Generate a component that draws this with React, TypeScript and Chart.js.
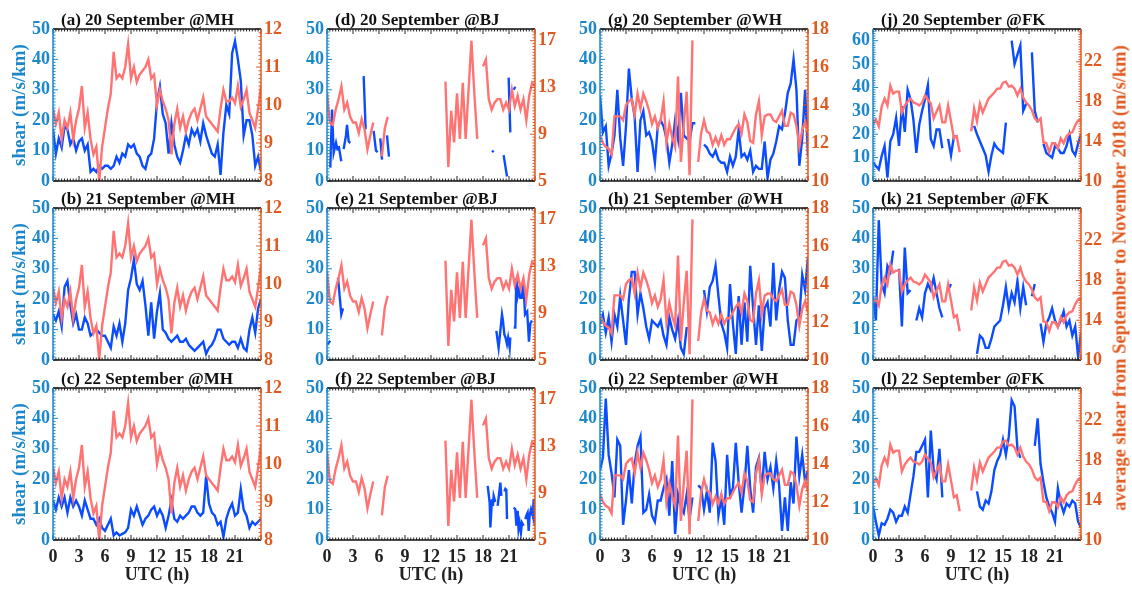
import React, { useEffect, useRef } from "react";
import { Chart, registerables } from "chart.js";
Chart.register(...registerables);

// ---------- time grid (hours UTC, 20-min steps) ----------
const H20: number[] = Array.from({ length: 73 }, (_, i) => i / 3);
const X_TICKS = [0, 3, 6, 9, 12, 15, 18, 21];

// ---------- MH ----------
const MH_AVG = [9.9, 9.5, 9.8, 9.1, 9.6, 9.4, 9.8, 9.1, 9.6, 9.9, 10.5, 9.4, 9.8, 9.1, 8.7, 8.9, 8.0, 8.9, 9.4, 9.9, 10.3, 11.4, 10.7, 10.8, 10.7, 11.0, 11.6, 10.7, 11.0, 10.6, 10.8, 10.9, 11.0, 11.2, 10.7, 10.8, 10.0, 10.4, 10.1, 9.9, 9.6, 8.7, 9.5, 9.9, 9.4, 9.7, 9.3, 9.6, 9.8, 9.9, 9.6, 9.9, 10.2, 9.7, 9.6, 9.5, 9.4, 9.3, 9.9, 10.4, 10.1, 10.1, 10.2, 10.05, 10.5, 9.95, 10.15, 10.4, 9.8, 9.6, 9.4, 9.9, 10.5];
const MH_20 = [17, 9, 14, 11, 18, 17, 12, 14, 10, 13, 14, 10, 12, 3, 4, 3, 5, 4, 5, 5, 4, 5, 8, 6, 9, 8, 12, 11, 12, 9, 8, 5, 4, 8, 9, 14, 26, 31, 22, 19, 9, 19, 12, 8, 6, 10, 15, 12, 17, 15, 17, 13, 19, 15, 12, 9, 8, 12, 2, 16, 25, 22, 42, 46, 40, 33, 15, 20, 20, 15, 5, 8, 3];
const MH_21 = [15, 13, 16, 11, 24, 26, 18, 12, 15, 10, 10, 14, 12, 8, 9, 10, 9, 8, 8, 6, 4, 11, 8, 12, 6, 12, 23, 27, 33, 25, 23, 26, 18, 8, 19, 7, 16, 22, 10, 9, 7, 6, 7, 8, 6, 6, 7, 5, 4, 3, 4, 5, 6, 2, 4, 5, 7, 10, 10, 7, 6, 5, 6, 6, 4, 7, 4, 3, 10, 14, 9, 17, 20];
const MH_22 = [13, 10, 14, 11, 14, 9, 14, 11, 13, 11, 8, 13, 10, 7, 7, 5, 7, 4, 3, 5, 7, 1.5, 2.5, 1.5, 2, 2.5, 4, 10, 8, 11, 8, 5, 7, 8, 10, 11, 8, 10, 8, 4, 8, 13, 7, 6, 8, 7, 8, 9, 11, 11, 9, 8, 9, 21, 12, 9, 8, 5, 6, 1, 7, 10, 12, 8, 9, 16.7, 10, 8, 4, 6, 5, 6, 7];

// ---------- BJ ----------
const BJ_AVG = [12.5, 10.0, 9.8, 11.1, 12.0, 13.1, 11.1, 11.7, 10.5, 10.0, 10.0, 9.1, 10.3, 9.4, 7.7, 8.9, 10.0, null, null, 7.1, 9.5, 10.5,
  null, null, null, null, null, null, null, null, null, null, null, null, null, null, null, null, null, null, null,
  13.5, 6.2, 11.0, 8.3, 12.5, 8.6, 13.4, 8.6, 12.8, 17.0, 12.5, 8.6, null,
  14.8, 15.4, 12.0, 11.1, 11.7, 12.0, 12.0, 11.1, 11.7, 11.1, 12.8, 11.4, 12.3, 11.1, 12.0, 10.2, 12.3, 13.4, 13.1];
const BJ_20_T = [0.38, 0.58, 0.77, 1.04, 1.23, 1.29, 1.35, 1.65, 1.78, 1.92, 2.19, 2.31, 2.5, 2.69, 3.5, 4.23, 4.46, 5.0, 5.38, 5.65, 5.85, 6.0, 6.15, 6.35, 6.6, 6.92, 7.15, 12, 19.04, 19.23, 19.8, 20.38, 20.77, 20.87, 20.96, 21.15, 21.35, 21.54, 21.73];
const BJ_20 = [4.4, 23.5, 9.3, 12.6, 10, null, 11.5, 6.5, null, 10.5, 15, 18.5, 13, 12.5, null, 34.5, 17, null, 16.5, 10, 9.5, null, 14, 7, null, 15, 8, null, 9.5, 10, null, 8.5, 1.5, null, 34, 16, null, 30, 31];
const BJ_21_T = [0.0, 0.38, 0.8, 1.27, 1.46, 1.65, 1.85, 5, 19.54, 19.8, 20.0, 20.19, 20.3, 20.46, 20.6, 20.77, 20.9, 21.08, 21.15, 21.3, 21.54, 21.73, 21.85, 22.0, 22.15, 22.3, 22.5, 22.65, 22.85, 23.1, 23.3, 23.46, 23.65];
const BJ_21 = [5.0, 6.3, null, 27, 21, 15, 17, null, 9.6, 4, 9.6, 15, 13, 8.5, 7.4, 5.2, 7.4, 4, 7.4, null, 10.7, 10.7, 27, 21, 23, 20.5, 20.5, 26, 15, 16, 6, 12, 13];
const BJ_22_T = [18.54, 18.77, 18.85, 19.04, 19.15, 19.23, 19.42, 19.55, 19.69, 19.85, 20.0, 20.12, 20.3, 20.46, 20.58, 20.69, 20.77, 21.2, 21.54, 21.73, 21.85, 22.0, 22.1, 22.23, 22.38, 22.5, 22.69, 22.8, 22.88, 23.0, 23.15, 23.27, 23.38, 23.54, 23.73, 23.85, 23.96];
const BJ_22 = [17.8, 12.3, 4.1, 13.4, 11.2, 14.5, 12.5, null, 11.2, 15, 18.9, 14.5, null, 16, 16.8, 16.5, 6.9, null, 10.7, 10.1, 4.7, 9.6, 3.5, 5.7, 2.5, 5.7, 4.7, null, 6.9, 8, 9, 3, 8, 10.1, 8, 13.4, 4.7];

// ---------- WH ----------
const WH_AVG = [12.4, 12.0, 11.8, 11.7, 11.4, 13.4, 13.4, 13.4, 13.2, 14.0, 14.2, 14.3, 13.5, 14.6, 13.8, 14.6, 14.2, 13.7, 13.0, 13.4, 12.8, 13.2, 14.2, 12.0, 13.0, 12.3, 11.8, 15.5, 11.0, 13.0, 14.7, 10.3, 17.4, null, 11.0, 12.5, 13.2, 12.6, 12.5, 11.9, 12.3, 11.9, 12.4, 11.9, 12.2, 12.2, 12.5, 12.8, 13.0, 12.5, 13.5, 13.1, 12.1, 12.0, 13.5, 14.2, 12.4, 13.4, 13.5, 13.5, 13.2, 13.1, 13.4, 13.7, 12.9, 12.9, 13.6, 13.5, 12.9, 11.8, 12.7, 13.1, 12.5];
const WH_20 = [28, 16, 18, 5, 9, 15, 30, 14, 5, 18, 37, 27, 21, 3, 20, 23, 15, 16, 13, 6, 18, 20, 18, 14, 6, 12, 20, 14, 29, 15, 14, 13, 19, 19, null, null, 12, 11, 9, 8, 10, 7, 6, 6, 3, 8, 5, 8, 17, 8, 9, 7, 10, 3, 5, 4, 4, 13, 1, 7, 9, 13, 18, 17, 22, 29, 32, 40, 30, 5, 14, 30, 8];
const WH_21 = [12, 15, 9, 14, 6, 15, 11, 21, 13, 5, 20, 29, 29, 15, 22, 17, 11, 7, 13, 12, 11, 13, 8, 5, 14, 10, 7, 13, 4, 2, 10.5, 10.5, null, null, null, null, 23, 16, 24, 26, 31, 21, 12, 9, 4, 25, 12, 2, 21, 5, 19, 6, 31, 17, 5, 18, 3, 17, 19, 11, 32, 13, 23, 29, 27, 13, 5, 5, 13, 14, 28, 23, 34];
const WH_22 = [23, 27, 46.5, 28, 22, 14, 33, 31, 5, 13, 23, 12, 25, 31, 34, 9, 10, 15, 8, 6, 13, 13, 17, 20, 8, 26, 2, 15, 11, 9, 15, 7, 14, null, 18, 17, 10, 16, 9, 32, 26, 8, 14, 5, 28, 15, 17, 32, 19, 9, 18, 31, 17, 9, 24, 27, 16, 29, 20, 24, 17, 26, 18, 3, 14, 3, 19, 12, 34, 21, 28, 19, 23];

// ---------- FK ----------
const FK_AVG = [15.7, 16.2, 15.5, 17.5, 18.3, 17.6, 19.6, 18.8, 19.0, 19.0, 16.9, 17.6, 18.0, 18.3, 17.9, 17.8, 17.6, 17.9, 18.6, 18.2, 17.8, 16.3, 17.0, 17.6, 15.9, 15.9, 17.6, 16.0, 14.3, 14.5, 12.9, null, null, null, 15.0, 17.3, 16.0, 17.8, 16.9, 17.6, 18.3, 18.6, 18.9, 19.3, 19.3, 19.9, 20.0, 19.5, 19.6, 19.3, 18.6, 19.3, 18.4, 17.9, 17.6, 17.1, 16.3, 16.0, 16.3, 13.9, 13.8, 12.9, 13.8, 13.8, 13.3, 14.3, 13.8, 14.5, 14.8, 14.9, 15.6, 16.1, 16.2];
const FK_20 = [8, 6.4, 5, 10.7, 15, 1.4, 17, 20, 27, 15, 32, 21, 39, 35, 26, 12, 24, 30, 35, 41, 18, 15, 22, 22, 14, null, 18, 11, 19, 19, null, null, null, null, null, 23.6, 20, 17, 14, 11, 4, 11, 16, 14, 13, 12, 25, null, 60, 50, 54, 58, 30, 33, null, 55, 30, 25, null, 16, 12, 11, 10, 15, 14, 12, 12, 15, 20, 13, 11, 16, 20];
const FK_21 = [21, 13, 46, 25, 22, 31, 29, 36, null, 30, 11, 37, 22, 23, null, 13, 17, 14, 22, 25, 23, 27, 22, 17, 14, null, 23, 25, null, null, null, null, null, null, null, null, 2, 8, 7, 4, 4, 7, 11, 12, 13, 18, 24, 17, 22, 19, 26, 17, 24, 18, null, 21, 25, null, 12, 6, 12, 14, 17, 13, 11, 13, 16, 11, 13, 8, 11, 1, 9];
const FK_22 = [11, 6, 1.5, 5.5, 5, 7, 10, 9, 6, 8, 8, 11, 9, 15, 21, 29, 29, 31, 33, 14, 36, 23, 20, 30, 14, null, null, null, null, null, null, null, null, null, null, null, 16, 11, 10, 13, 12, 16, 23, 26, 28, 33, 28, 34, 46, 44, 30, 27, null, null, null, null, 31, 40, 25, 19, 14, 11, 9, 6, 17, 12, 9, 12, 11, 13, 12, 6, 4];

// ---------- styling ----------
const SERIF = "'Liberation Serif', 'Times New Roman', Times, serif";
const BLUE_LINE = "#0b4cff";
const PINK_LINE = "#ff7373";
const BLUE_TXT = "#1c87cb";
const ORANGE_TXT = "#e0591f";
const COL_LEFT = [53, 327, 600, 873];
const ROW_TOP = [29, 208, 388];
const PW = 208;
const PH = 152;
const L = 53;
const R = 36;
const T = 28;

type Station = { avg: (number | null)[]; y1Min: number; y1Max: number; y1Ticks: number[]; y1Minor: number };
const STATIONS: Record<string, Station> = {
  MH: { avg: MH_AVG, y1Min: 8, y1Max: 12, y1Ticks: [8, 9, 10, 11, 12], y1Minor: 0.1 },
  BJ: { avg: BJ_AVG, y1Min: 5, y1Max: 18, y1Ticks: [5, 9, 13, 17], y1Minor: 0.25 },
  WH: { avg: WH_AVG, y1Min: 10, y1Max: 18, y1Ticks: [10, 12, 14, 16, 18], y1Minor: 0.2 },
  FK: { avg: FK_AVG, y1Min: 10, y1Max: 25.3, y1Ticks: [10, 14, 18, 22], y1Minor: 0.25 },
};

type PanelDef = { id: string; date: string; st: string; col: number; row: number; sx: number[]; sv: (number | null)[]; yMax: number; yTicks: number[] };
const Y50 = [0, 10, 20, 30, 40, 50];
const PANELS: PanelDef[] = [
  { id: "a", date: "20 September", st: "MH", col: 0, row: 0, sx: H20, sv: MH_20, yMax: 50, yTicks: Y50 },
  { id: "b", date: "21 September", st: "MH", col: 0, row: 1, sx: H20, sv: MH_21, yMax: 50, yTicks: Y50 },
  { id: "c", date: "22 September", st: "MH", col: 0, row: 2, sx: H20, sv: MH_22, yMax: 50, yTicks: Y50 },
  { id: "d", date: "20 September", st: "BJ", col: 1, row: 0, sx: BJ_20_T, sv: BJ_20, yMax: 50, yTicks: Y50 },
  { id: "e", date: "21 September", st: "BJ", col: 1, row: 1, sx: BJ_21_T, sv: BJ_21, yMax: 50, yTicks: Y50 },
  { id: "f", date: "22 September", st: "BJ", col: 1, row: 2, sx: BJ_22_T, sv: BJ_22, yMax: 50, yTicks: Y50 },
  { id: "g", date: "20 September", st: "WH", col: 2, row: 0, sx: H20, sv: WH_20, yMax: 50, yTicks: Y50 },
  { id: "h", date: "21 September", st: "WH", col: 2, row: 1, sx: H20, sv: WH_21, yMax: 50, yTicks: Y50 },
  { id: "i", date: "22 September", st: "WH", col: 2, row: 2, sx: H20, sv: WH_22, yMax: 50, yTicks: Y50 },
  { id: "j", date: "20 September", st: "FK", col: 3, row: 0, sx: H20, sv: FK_20, yMax: 65, yTicks: [0, 10, 20, 30, 40, 50, 60] },
  { id: "k", date: "21 September", st: "FK", col: 3, row: 1, sx: H20, sv: FK_21, yMax: 50, yTicks: Y50 },
  { id: "l", date: "22 September", st: "FK", col: 3, row: 2, sx: H20, sv: FK_22, yMax: 50, yTicks: Y50 },
];

const pts = (xs: number[], ys: (number | null)[]) => ys.map((y, i) => ({ x: xs[i], y }));

const decoPlugin = {
  id: "deco",
  afterDraw(chart: any, _args: any, opts: any) {
    const { ctx, chartArea, scales } = chart;
    const { left, right, top, bottom } = chartArea;
    const line = (x1: number, y1: number, x2: number, y2: number) => {
      ctx.beginPath();
      ctx.moveTo(x1, y1);
      ctx.lineTo(x2, y2);
      ctx.stroke();
    };
    ctx.save();
    ctx.lineWidth = 1;
    ctx.strokeStyle = "#222";
    for (let k = 0; k <= 72; k++) {
      const px = scales.x.getPixelForValue(k / 3);
      const len = k % 9 === 0 ? 5 : 2.5;
      line(px, top, px, top + len);
      line(px, bottom, px, bottom - len);
    }
    ctx.strokeStyle = BLUE_TXT;
    for (let v = 0; v <= opts.yMax + 1e-6; v += 1) {
      const py = scales.y.getPixelForValue(v);
      line(left, py, left + (v % 10 === 0 ? 5 : 2.5), py);
    }
    ctx.strokeStyle = ORANGE_TXT;
    const n = Math.round((opts.y1Max - opts.y1Min) / opts.y1Minor);
    for (let k = 0; k <= n; k++) {
      const v = opts.y1Min + k * opts.y1Minor;
      const major = opts.y1Ticks.some((t: number) => Math.abs(t - v) < 1e-6);
      const py = scales.y1.getPixelForValue(v);
      line(right, py, right - (major ? 5 : 2.5), py);
    }
    ctx.lineWidth = 1.5;
    ctx.strokeStyle = "#111";
    line(left, top, right, top);
    line(left, bottom, right, bottom);
    ctx.strokeStyle = BLUE_TXT;
    line(left, top, left, bottom);
    ctx.strokeStyle = ORANGE_TXT;
    line(right, top, right, bottom);
    ctx.fillStyle = "#111";
    ctx.font = `bold 17px ${SERIF}`;
    ctx.textAlign = "left";
    ctx.textBaseline = "alphabetic";
    ctx.fillText(opts.title, left + 8, top - 4);
    ctx.restore();
  },
};

function Panel({ p }: { p: PanelDef }) {
  const ref = useRef<HTMLCanvasElement | null>(null);
  const st = STATIONS[p.st];
  const B = p.row === 2 ? 48 : 14;
  const W = L + PW + R;
  const H = T + PH + B;
  useEffect(() => {
    if (!ref.current) return;
    const tickFont = { family: SERIF, size: 18, weight: "bold" as const };
    const chart = new Chart(ref.current, {
      type: "line",
      data: {
        datasets: [
          { data: pts(H20, st.avg) as any, yAxisID: "y1", borderColor: PINK_LINE, borderWidth: 2.4, pointRadius: 0, tension: 0, spanGaps: false },
          { data: pts(p.sx, p.sv) as any, yAxisID: "y", borderColor: BLUE_LINE, borderWidth: 2.4, pointRadius: 0, tension: 0, spanGaps: false },
        ],
      },
      options: {
        responsive: false,
        animation: false,
        devicePixelRatio: 1,
        events: [],
        layout: { padding: { top: T, left: 0, right: 0, bottom: 0 } },
        plugins: {
          legend: { display: false },
          tooltip: { enabled: false },
          title: { display: false },
          deco: { title: `(${p.id}) ${p.date} @${p.st}`, yMax: p.yMax, y1Min: st.y1Min, y1Max: st.y1Max, y1Minor: st.y1Minor, y1Ticks: st.y1Ticks },
        } as any,
        scales: {
          x: {
            type: "linear",
            position: "bottom",
            min: 0,
            max: 24,
            grid: { display: false, drawTicks: false },
            border: { display: false },
            ticks: { display: p.row === 2, padding: 7, font: tickFont, color: "#222", autoSkip: false, maxRotation: 0 },
            title: { display: p.row === 2, text: "UTC (h)", font: tickFont, color: "#222", padding: { top: 0, bottom: 2 } },
            afterBuildTicks: (s: any) => { s.ticks = X_TICKS.map((v) => ({ value: v })); },
            afterFit: (s: any) => { s.height = B; s.paddingLeft = 0; s.paddingRight = 0; },
          },
          y: {
            type: "linear",
            position: "left",
            min: 0,
            max: p.yMax,
            grid: { display: false, drawTicks: false },
            border: { display: false },
            ticks: { padding: 3, font: tickFont, color: BLUE_TXT, autoSkip: false },
            title: { display: p.col === 0, text: "shear (m/s/km)", font: { family: SERIF, size: 19, weight: "bold" }, color: BLUE_TXT, padding: { top: 9, bottom: 0 } },
            afterBuildTicks: (s: any) => { s.ticks = p.yTicks.map((v) => ({ value: v })); },
            afterFit: (s: any) => { s.width = L; s.paddingTop = 0; s.paddingBottom = 0; },
          },
          y1: {
            type: "linear",
            position: "right",
            min: st.y1Min,
            max: st.y1Max,
            grid: { display: false, drawTicks: false },
            border: { display: false },
            ticks: { padding: 3, font: tickFont, color: ORANGE_TXT, autoSkip: false },
            afterBuildTicks: (s: any) => { s.ticks = st.y1Ticks.map((v) => ({ value: v })); },
            afterFit: (s: any) => { s.width = R; s.paddingTop = 0; s.paddingBottom = 0; },
          },
        },
      } as any,
      plugins: [decoPlugin as any],
    });
    return () => chart.destroy();
  }, []);
  return (
    <canvas
      ref={ref}
      width={W}
      height={H}
      style={{ position: "absolute", left: COL_LEFT[p.col] - L, top: ROW_TOP[p.row] - T, width: W, height: H }}
    />
  );
}

export default function App() {
  return (
    <div style={{ position: "absolute", left: 0, top: 0, width: 1132, height: 590, background: "#fff", overflow: "hidden" }}>
      {PANELS.map((p) => (
        <Panel key={p.id} p={p} />
      ))}
      <div
        style={{
          position: "absolute",
          left: 1120,
          top: 278,
          transform: "translate(-50%, -50%) rotate(-90deg)",
          whiteSpace: "nowrap",
          fontFamily: SERIF,
          fontWeight: "bold",
          fontSize: 18.5,
          color: ORANGE_TXT,
        }}
      >
        average shear from September to November 2018 (m/s/km)
      </div>
    </div>
  );
}
